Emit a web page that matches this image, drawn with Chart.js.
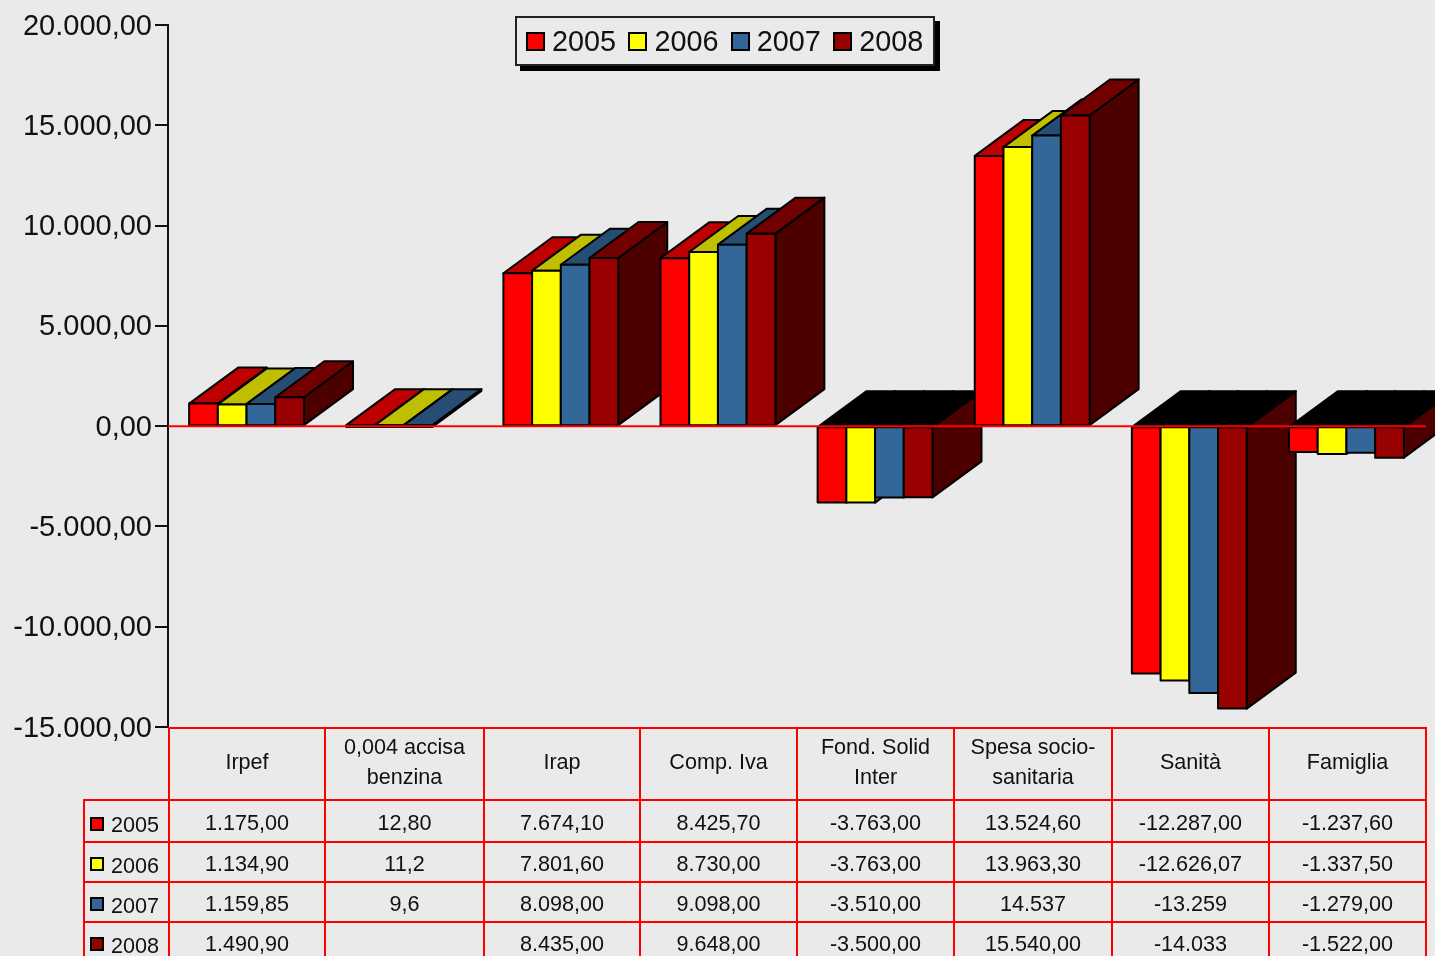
<!DOCTYPE html>
<html>
<head>
<meta charset="utf-8">
<title>Chart</title>
<script src="https://cdn.jsdelivr.net/npm/chart.js@4"></script>
<style>
  html, body { margin: 0; height: 956px; background: #eaeaea; overflow: hidden; font-family: "Liberation Sans", sans-serif; color: #111; }
  #chart { position: absolute; left: 0; top: 0; }
  #legend { position: absolute; left: 515px; top: 16px; width: 416px; height: 46px; border: 2px solid #222; box-shadow: 5px 5px 0 #000; }
  #legend span { position: absolute; top: 7px; font-size: 28.8px; line-height: 32px; }
  #legend i { position: absolute; top: 14px; width: 15px; height: 15px; border: 2px solid #000; }
  #table { position: absolute; left: 83px; top: 727px; border-collapse: collapse; table-layout: fixed; width: 1342px; font-size: 21.6px; }
  #table td { border: 2px solid #f00; padding: 0; text-align: center; line-height: 30px; }
  #table tr.head td { padding-bottom: 4px; }
  #table tr.row td { padding-top: 4px; box-sizing: border-box; }
  #table td.blank { border-top: 0; border-left: 0; }
  #table tr.row td.year { text-align: left; position: relative; padding-left: 26px; padding-top: 8px; }
  #table td.year i { position: absolute; left: 5px; width: 10px; height: 10px; border: 2px solid #000; }
</style>
</head>
<body>
<canvas id="chart" width="1435" height="956"></canvas>
<div id="legend"></div>
<table id="table"></table>
<script>
const categories = ["Irpef", "0,004 accisa<br>benzina", "Irap", "Comp. Iva", "Fond. Solid<br>Inter", "Spesa socio-<br>sanitaria", "Sanità", "Famiglia"];
const years = ["2005", "2006", "2007", "2008"];

const values2005 = [1175, 12.8, 7674.1, 8425.7, -3763, 13524.6, -12287, -1237.6];
const values2006 = [1134.9, 11.2, 7801.6, 8730, -3763, 13963.3, -12626.07, -1337.5];
const values2007 = [1159.85, 9.6, 8098, 9098, -3510, 14537, -13259, -1279];
const values2008 = [1490.9, null, 8435, 9648, -3500, 15540, -14033, -1522];

// table cells are written as in the source, formatting is not uniform
const cells2005 = ["1.175,00", "12,80", "7.674,10", "8.425,70", "-3.763,00", "13.524,60", "-12.287,00", "-1.237,60"];
const cells2006 = ["1.134,90", "11,2", "7.801,60", "8.730,00", "-3.763,00", "13.963,30", "-12.626,07", "-1.337,50"];
const cells2007 = ["1.159,85", "9,6", "8.098,00", "9.098,00", "-3.510,00", "14.537", "-13.259", "-1.279,00"];
const cells2008 = ["1.490,90", "", "8.435,00", "9.648,00", "-3.500,00", "15.540,00", "-14.033", "-1.522,00"];

const front = ["#ff0000", "#ffff00", "#336699", "#990000"];
const topFace = ["#bf0000", "#bfbf00", "#264d73", "#730000"];
const sideFace = ["#7f0000", "#7f7f00", "#1a334d", "#4c0000"];

const allValues = [values2005, values2006, values2007, values2008];
const allCells = [cells2005, cells2006, cells2007, cells2008];

const DEPTH_X = 49, DEPTH_Y = 36;

function face(ctx, pts, fill) {
  ctx.beginPath();
  pts.forEach((p, i) => i ? ctx.lineTo(p[0], p[1]) : ctx.moveTo(p[0], p[1]));
  ctx.closePath();
  ctx.fillStyle = fill;
  ctx.fill();
  ctx.stroke();
}

/* ========= 3D BARS ========= */
// bars go category by category so the next group sits over the last one's side
const bars3d = {
  id: "bars3d",
  beforeDatasetsDraw(chart) {
    const ctx = chart.ctx;
    ctx.save();
    ctx.lineWidth = 2;
    ctx.strokeStyle = "#000";
    ctx.lineJoin = "round";
    categories.forEach((c, j) => {
      allValues.forEach((vals, i) => {
        if (vals[j] === null) return;
        const bar = chart.getDatasetMeta(i).data[j];
        const l = bar.x - bar.width / 2, r = bar.x + bar.width / 2;
        // the value end sits about a pixel lower than the scale says in the source
        const end = bar.y + 1;
        const up = Math.min(end, bar.base), down = Math.max(end, bar.base);
        face(ctx, [[r, up], [r + DEPTH_X, up - DEPTH_Y], [r + DEPTH_X, down - DEPTH_Y], [r, down]], sideFace[i]);
        face(ctx, [[l, up], [r, up], [r + DEPTH_X, up - DEPTH_Y], [l + DEPTH_X, up - DEPTH_Y]], vals[j] < 0 ? "#000" : topFace[i]);
        face(ctx, [[l, up], [r, up], [r, down], [l, down]], front[i]);
      });
    });
    ctx.restore();
    return false;
  },
  afterDraw(chart) {
    const ctx = chart.ctx, y0 = chart.scales.y.getPixelForValue(0);
    ctx.save();
    ctx.strokeStyle = "#f00";
    ctx.lineWidth = 2;
    ctx.beginPath();
    ctx.moveTo(chart.chartArea.left, y0);
    ctx.lineTo(chart.chartArea.right + 1, y0);
    ctx.stroke();
    ctx.restore();
  }
};

new Chart(document.getElementById("chart"), {
  type: "bar",
  data: {
    labels: categories,
    datasets: years.map((y, i) => ({
      label: y,
      data: allValues[i],
      backgroundColor: front[i],
      borderColor: "#000",
      borderWidth: 2,
      borderSkipped: false,
      categoryPercentage: 0.731,
      barPercentage: 1
    }))
  },
  options: {
    responsive: false,
    animation: false,
    layout: { padding: { top: 25, right: 10, bottom: 229, left: 0 } },
    plugins: { legend: { display: false }, tooltip: { enabled: false } },
    scales: {
      x: { display: false },
      y: {
        min: -15000,
        max: 20000,
        afterFit(scale) { scale.width = 168; },
        border: { color: "#111", width: 2 },
        grid: { drawOnChartArea: false, color: "#111", lineWidth: 2, tickLength: 13 },
        ticks: {
          stepSize: 5000,
          padding: 3,
          labelOffset: 1.5,
          color: "#111",
          font: { family: "Liberation Sans", size: 29 },
          callback: v => v.toLocaleString("de-DE", { minimumFractionDigits: 2 })
        }
      }
    }
  },
  plugins: [bars3d]
});

/* ========= LEGEND ========= */
const legendEl = document.getElementById("legend");
legendEl.innerHTML = years.map((y, i) => {
  const x = 9 + i * 102.4;
  return `<i style="left:${x}px;background:${front[i]}"></i><span style="left:${x + 26}px">${y}</span>`;
}).join("");

/* ========= DATA TABLE ========= */
const colWidths = [85, 156, 159, 156, 157, 157, 158, 157, 157];
const rowHeights = [72, 42, 40, 40, 40];
let html = "<colgroup>" + colWidths.map(w => `<col style="width:${w}px">`).join("") + "</colgroup>";
html += `<tr class="head" style="height:${rowHeights[0]}px"><td class="blank"></td>` + categories.map(c => `<td>${c}</td>`).join("") + "</tr>";
years.forEach((y, i) => {
  html += `<tr class="row" style="height:${rowHeights[i + 1]}px"><td class="year"><i style="top:${i ? 14 : 16}px;background:${front[i]}"></i>${y}</td>`
    + allCells[i].map(c => `<td>${c}</td>`).join("") + "</tr>";
});
document.getElementById("table").innerHTML = html;
</script>
</body>
</html>
